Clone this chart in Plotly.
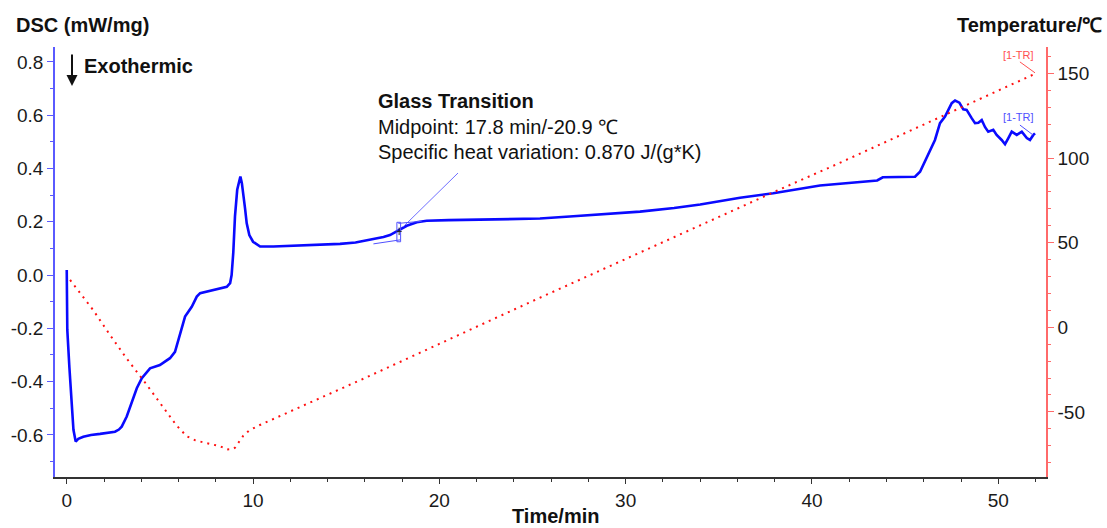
import plotly.graph_objects as go

# ---------------- data ----------------
# DSC signal (mW/mg) vs time (min)
dsc_time = [0.00, 0.03, 0.14, 0.27, 0.36, 0.48, 0.62, 0.89, 1.30, 1.79, 2.20, 2.59, 2.80, 2.95,
            3.22, 3.49, 3.76, 4.03, 4.47, 5.00, 5.54, 5.81, 6.08, 6.35, 6.71, 6.98, 7.16, 7.60,
            8.10, 8.59, 8.77, 8.85, 8.94, 9.03, 9.15, 9.27, 9.32, 9.40, 9.48, 9.57, 9.66, 9.80,
            10.00, 10.38, 11.09, 12.00, 13.00, 14.00, 14.67, 15.50, 16.46, 17.00, 17.35, 17.80,
            18.25, 18.79, 19.32, 20.50, 23.60, 25.40, 27.00, 29.00, 30.77, 32.60, 34.00, 36.14,
            37.92, 40.43, 41.50, 43.10, 43.50, 43.80, 45.00, 45.53, 45.80, 46.16, 46.60, 46.87,
            47.14, 47.32, 47.50, 47.68, 47.91, 48.12, 48.30, 48.57, 48.75, 48.93, 49.11, 49.29,
            49.46, 49.73, 49.91, 50.18, 50.36, 50.54, 50.72, 50.99, 51.26, 51.53, 51.70, 51.88,
            51.97]
dsc_value = [0.019, -0.206, -0.344, -0.494, -0.581, -0.625, -0.615, -0.607, -0.600, -0.596, -0.592,
             -0.588, -0.580, -0.569, -0.531, -0.481, -0.425, -0.387, -0.350, -0.338, -0.312, -0.288,
             -0.219, -0.156, -0.119, -0.081, -0.068, -0.060, -0.052, -0.044, -0.030, 0.000, 0.085,
             0.220, 0.320, 0.363, 0.370, 0.345, 0.307, 0.250, 0.194, 0.150, 0.125, 0.107, 0.107,
             0.109, 0.111, 0.113, 0.117, 0.122, 0.134, 0.143, 0.150, 0.166, 0.185, 0.198, 0.204,
             0.206, 0.209, 0.212, 0.220, 0.229, 0.238, 0.252, 0.265, 0.290, 0.307, 0.336, 0.342,
             0.351, 0.355, 0.367, 0.369, 0.369, 0.388, 0.444, 0.507, 0.570, 0.595, 0.620, 0.645,
             0.655, 0.647, 0.622, 0.620, 0.589, 0.570, 0.572, 0.582, 0.555, 0.538, 0.545, 0.526,
             0.507, 0.491, 0.514, 0.538, 0.526, 0.538, 0.514, 0.507, 0.526, 0.532]

# Temperature programme (degC) vs time (min)
temp_time = [0.18, 1.43, 2.32, 3.22, 4.26, 5.00, 5.89, 6.44, 6.90, 7.42, 8.23, 8.59, 8.90,
             9.03, 9.25, 9.48, 9.79, 10.34, 15.92, 25.50, 38.29, 41.15, 51.90]
temp_value = [28.0, 10.0, -4.5, -18.5, -33.5, -44.5, -58.0, -64.4, -66.8, -68.3, -70.3,
              -72.2, -72.0, -71.2, -67.9, -64.0, -61.0, -57.9, -30.4, 18.0, 81.6, 95.5, 149.5]

x_ticks = [0, 10, 20, 30, 40, 50]
x_minor = [v * 2 for v in range(0, 27)]
y_ticks = [-0.6, -0.4, -0.2, 0.0, 0.2, 0.4, 0.6, 0.8]
y_ticktext = ["-0.6", "-0.4", "-0.2", "0.0", "0.2", "0.4", "0.6", "0.8"]
y_minor = [-0.7, -0.5, -0.3, -0.1, 0.1, 0.3, 0.5, 0.7]
y2_ticks = [-50, 0, 50, 100, 150]
y2_ticktext = ["-50", "0", "50", "100", "150"]
y2_minor = [-80, -70, -60, -40, -30, -20, -10, 10, 20, 30, 40, 60, 70, 80, 90,
            110, 120, 130, 140, 160]

FONT = "Liberation Sans, Arial, sans-serif"
BLUE = "#0a0aff"
RED = "#ff1010"
AXBLUE = "#5a5aff"
AXRED = "#ff6a6a"

fig = go.Figure()
fig.add_trace(go.Scatter(x=dsc_time, y=dsc_value, mode="lines",
                         line=dict(color=BLUE, width=2.6), yaxis="y", showlegend=False,
                         hoverinfo="skip"))
fig.add_trace(go.Scatter(x=temp_time, y=temp_value, mode="lines",
                         line=dict(color=RED, width=2, dash="2px,5px"), yaxis="y2",
                         showlegend=False, hoverinfo="skip"))

tickfont = dict(family=FONT, size=19, color="#1a1a1a")

fig.update_layout(
    width=1107, height=528,
    margin=dict(l=55, r=61, t=47, b=51),
    paper_bgcolor="white", plot_bgcolor="white",
    xaxis=dict(range=[-0.63, 52.56], tickmode="array", tickvals=x_ticks,
               showline=True, linecolor="#333333", linewidth=1.5,
               ticks="outside", ticklen=5, tickcolor="#333333", tickwidth=1,
               minor=dict(tickmode="array", tickvals=x_minor, ticks="outside", ticklen=3,
                          tickcolor="#333333", showgrid=False),
               showgrid=False, zeroline=False, tickfont=tickfont),
    yaxis=dict(range=[-0.758, 0.856], tickmode="array", tickvals=y_ticks, ticktext=y_ticktext,
               showline=True, linecolor=AXBLUE, linewidth=1.5,
               ticks="outside", ticklen=6, tickcolor=AXBLUE, tickwidth=1,
               minor=dict(tickmode="array", tickvals=y_minor, ticks="outside", ticklen=3,
                          tickcolor=AXBLUE, showgrid=False),
               showgrid=False, zeroline=False, tickfont=tickfont),
    yaxis2=dict(range=[-88.5, 165.7], overlaying="y", side="right", tickmode="array",
                tickvals=y2_ticks, ticktext=y2_ticktext,
                showline=True, linecolor=AXRED, linewidth=1.5,
                ticks="outside", ticklen=6, tickcolor=AXRED, tickwidth=1,
                minor=dict(tickmode="array", tickvals=y2_minor, ticks="outside", ticklen=3,
                           tickcolor=AXRED, showgrid=False),
                showgrid=False, zeroline=False, tickfont=tickfont),
)

def px_x(p):
    return (p - 55) / 991.0

def px_y(p):
    return (477 - p) / 430.0

ann = []
ann.append(dict(text="<b>DSC (mW/mg)</b>", xref="paper", yref="paper", x=px_x(14), y=px_y(25),
                xanchor="left", yanchor="middle", showarrow=False,
                font=dict(family=FONT, size=20, color="#111")))
ann.append(dict(text="<b>Temperature/℃</b>", xref="paper", yref="paper", x=px_x(1104), y=px_y(25),
                xanchor="right", yanchor="middle", showarrow=False,
                font=dict(family=FONT, size=20, color="#111")))
ann.append(dict(text="<b>Time/min</b>", xref="paper", yref="paper", x=px_x(555), y=px_y(516),
                xanchor="center", yanchor="middle", showarrow=False,
                font=dict(family=FONT, size=20, color="#111")))
ann.append(dict(text="<b>Exothermic</b>", xref="paper", yref="paper", x=px_x(82), y=px_y(66),
                xanchor="left", yanchor="middle", showarrow=False,
                font=dict(family=FONT, size=20, color="#111")))
ann.append(dict(text="", xref="paper", yref="paper", x=px_x(72), y=px_y(86),
                ax=0, ay=-33, showarrow=True, arrowhead=2, arrowsize=1.1, arrowwidth=2,
                arrowcolor="#111"))
# Glass transition text
ann.append(dict(text="<b>Glass Transition</b>", xref="paper", yref="paper", x=px_x(376), y=px_y(101),
                xanchor="left", yanchor="middle", showarrow=False,
                font=dict(family=FONT, size=20, color="#111")))
ann.append(dict(text="Midpoint: 17.8 min/-20.9 ℃", xref="paper", yref="paper", x=px_x(376),
                y=px_y(127), xanchor="left", yanchor="middle", showarrow=False,
                font=dict(family=FONT, size=20, color="#111")))
ann.append(dict(text="Specific heat variation: 0.870 J/(g*K)", xref="paper", yref="paper",
                x=px_x(376), y=px_y(152), xanchor="left", yanchor="middle", showarrow=False,
                font=dict(family=FONT, size=20, color="#111")))
# [1-TR] labels
ann.append(dict(text="[1-TR]", xref="x", yref="y", x=51.06, y=0.826, showarrow=False,
                xanchor="center", yanchor="middle",
                font=dict(family=FONT, size=11, color="#ff5050")))
ann.append(dict(text="[1-TR]", xref="x", yref="y", x=51.06, y=0.593, showarrow=False,
                xanchor="center", yanchor="middle",
                font=dict(family=FONT, size=11, color="#5050ff")))
fig.update_layout(annotations=ann)

shapes = []
# leader line to glass transition
shapes.append(dict(type="line", xref="x", yref="y", x0=18.07, y0=0.182, x1=21.0, y1=0.383,
                   line=dict(color="#7070ff", width=1)))
# glass transition construction lines
shapes.append(dict(type="rect", xref="x", yref="y", x0=17.72, y0=0.125, x1=17.92, y1=0.198,
                   line=dict(color="#5050ff", width=1)))
shapes.append(dict(type="line", xref="x", yref="y", x0=16.46, y0=0.117, x1=17.89, y1=0.132,
                   line=dict(color="#5050ff", width=1)))
shapes.append(dict(type="line", xref="x", yref="y", x0=17.8, y0=0.194, x1=19.05, y1=0.202,
                   line=dict(color="#5050ff", width=1)))
shapes.append(dict(type="line", xref="x", yref="y", x0=17.84, y0=0.150, x1=17.84, y1=0.178,
                   line=dict(color="#222", width=1)))
shapes.append(dict(type="line", xref="x", yref="y", x0=17.70, y0=0.164, x1=17.98, y1=0.164,
                   line=dict(color="#222", width=1)))
# [1-TR] leader lines
shapes.append(dict(type="line", xref="x", yref="y", x0=51.16, y0=0.80, x1=51.97, y1=0.759,
                   line=dict(color="#ff5050", width=1)))
shapes.append(dict(type="line", xref="x", yref="y", x0=51.16, y0=0.563, x1=51.86, y1=0.526,
                   line=dict(color="#5050ff", width=1)))
fig.update_layout(shapes=shapes)

fig.write_html("out.html", config={"displayModeBar": False},
               post_script="document.body.style.margin='0';document.documentElement.style.margin='0';")
